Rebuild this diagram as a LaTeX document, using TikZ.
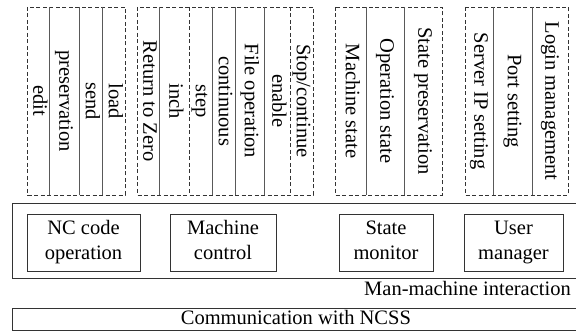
\documentclass[tikz,border=0pt]{standalone}
\usepackage{fontspec}
\setmainfont{Liberation Serif}
% keeps the two-line box labels on a common baseline grid
\newcommand\lineph{\vphantom{Ndpg}}
\begin{document}
\begin{tikzpicture}[x=1pt,y=-1pt,
  lbl/.style={font=\fontsize{20.5}{25}\selectfont, inner sep=0pt, text=black},
  boxline/.style={draw=black!80, line width=0.8pt},
  dashframe/.style={draw=black!80, line width=0.8pt, dash pattern=on 4pt off 2.5pt},
  split/.style={draw=black!65, line width=0.8pt},
  vtext/.style={lbl, rotate=-90, text height=14pt, text depth=4.5pt},
  func/.style={lbl, boxline, align=center, minimum height=57pt}
]
\useasboundingbox (0,0) rectangle (576,331);

% ---- dashed groups of sub-functions ----
\draw[dashframe] (27,7)  rectangle (125,195);
\draw[dashframe] (137,7) rectangle (313,195);
\draw[dashframe] (335,7) rectangle (442,195);
\draw[dashframe] (465,7) rectangle (568,195);

% column separators
\foreach \x in {49,79,102,159,212,235,264,366,404,493,532}
  \draw[split] (\x,7) -- (\x,195);
\foreach \x in {189,290}
  \draw[dashframe] (\x,7) -- (\x,195);

% column labels, read top to bottom
\foreach \cx/\txt/\nm in {
   38/edit/ncedit, 64/preservation/ncsave, 90.5/send/ncsend, 113.5/load/ncload,
   148/Return to Zero/mczero, 174/inch/mcinch, 200.5/step/mcstep,
   223.5/continuous/mccont, 249.5/File operation/mcfile, 277/enable/mcenable,
   301.5/Stop\slash continue/mcstop,
   350.5/Machine state/smmach, 385/Operation state/smop, 423/State preservation/smsave,
   479/Server IP setting/umip, 512.5/Port setting/umport, 550/Login management/umlogin}
  \node[vtext] (\nm) at (\cx,101) {\txt};

% ---- man-machine interaction layer ----
\node[boxline, minimum width=567pt, minimum height=75pt, inner sep=0pt,
      anchor=north west] (hmi) at (12,203) {};
\node[func, minimum width=113pt] (nccode)  at (83.5,242.5)  {NC code\lineph\\operation\lineph};
\node[func, minimum width=106pt] (machine) at (223,242.5)   {Machine\lineph\\control\lineph};
\node[func, minimum width=94pt]  (monitor) at (386,242.5)   {State\lineph\\monitor\lineph};
\node[func, minimum width=99pt]  (user)    at (513.5,242.5) {User\lineph\\manager\lineph};
\node[lbl, anchor=base east] (hmilabel) at (571,295) {Man-machine interaction};

% ---- communication layer ----
\node[lbl, boxline, minimum width=567pt, minimum height=22pt, text height=14pt,
      text depth=4pt, anchor=north west] (comm) at (12,308) {Communication with NCSS};
\end{tikzpicture}
\end{document}
